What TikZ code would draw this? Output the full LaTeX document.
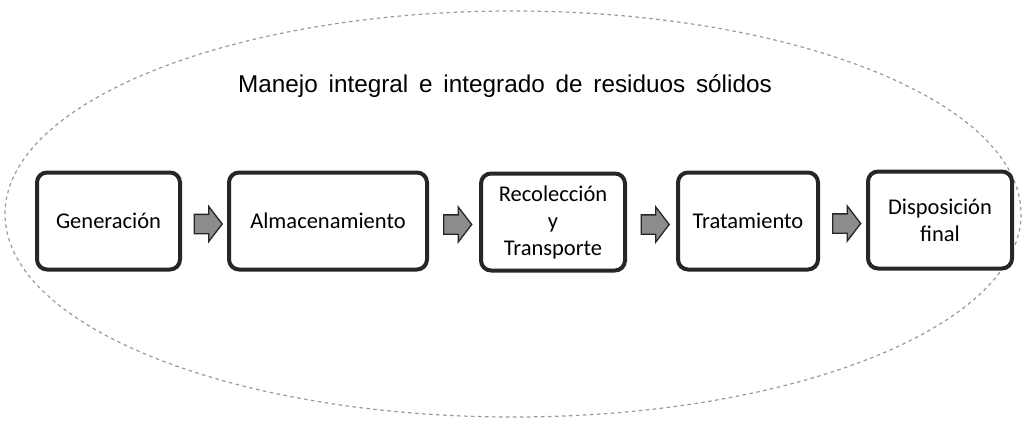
\documentclass[tikz,border=0pt]{standalone}
\usepackage{fontspec}
\setmainfont{Carlito}
\newfontfamily\titlefont{Liberation Sans}
\usetikzlibrary{shapes.arrows,calc}
\begin{document}
\begin{tikzpicture}[x=1pt,y=-1pt,
  stepbox/.style={draw=black!85, line width=4pt, rounded corners=10pt, fill=white,
    minimum height=97pt, align=center, font=\fontsize{22.5}{27}\selectfont, inner sep=3pt},
  blockarrow/.style={single arrow, draw=black!85, line width=1.3pt, fill=black!45,
    minimum height=28pt, minimum width=0pt, inner xsep=0pt, inner ysep=9pt,
    single arrow head extend=8pt, single arrow tip angle=105}]
\useasboundingbox (0,0) rectangle (1027,428);
\draw[gray!80, line width=1.2pt, dash pattern=on 3.5pt off 3.5pt] (513,214) ellipse [x radius=508, y radius=203];
\node (title) at (505,86) {\titlefont\fontsize{24.3}{27}\selectfont Manejo\, integral\, e\, integrado\, de\, residuos\, sólidos};
\node[stepbox, minimum width=143pt] (gen) at (108.5,221) {Generación};
\node[stepbox, minimum width=198pt] (alm) at (328,221) {Almacenamiento};
\node[stepbox, minimum width=144pt] (rec) at (553,222) {Recolección\\y\\Transporte};
\node[stepbox, minimum width=140pt] (tra) at (748,221) {Tratamiento};
\node[stepbox, minimum width=144pt] (dis) at (940,220) {Disposición\\final};
\node[blockarrow] (a1) at ($(gen.east)!0.5!(alm.west)+(0,3)$) {};
\node[blockarrow] (a2) at ($(alm.east)!0.5!(rec.west)+(0,3)$) {};
\node[blockarrow] (a3) at ($(rec.east)!0.5!(tra.west)+(0,3)$) {};
\node[blockarrow] (a4) at ($(tra.east)!0.5!(dis.west)+(0,3)$) {};
\end{tikzpicture}
\end{document}
